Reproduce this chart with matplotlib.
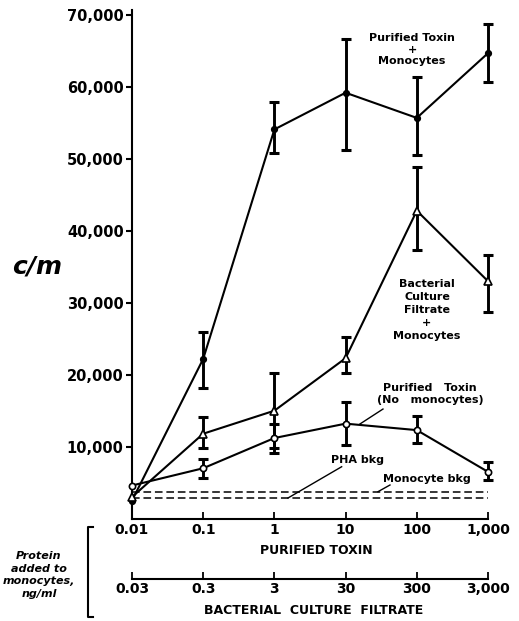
import matplotlib
matplotlib.use('Agg')
import matplotlib.pyplot as plt
from matplotlib.lines import Line2D
import numpy as np

# --- data ---
dose = [0.01, 0.1, 1, 10, 100, 1000]
dose_labels = ['0.01', '0.1', '1', '10', '100', '1,000']
filtrate_labels = ['0.03', '0.3', '3', '30', '300', '3,000']

toxin_mono = [2500, 22200, 54100, 59200, 55700, 64700]
toxin_mono_hi = [2500, 25900, 57900, 66600, 61400, 68700]
toxin_mono_lo = [2500, 18200, 50800, 51200, 50500, 60700]

filtrate_mono = [3000, 11800, 15000, 22300, 42800, 33000]
filtrate_mono_hi = [3000, 14100, 20200, 25200, 48900, 36700]
filtrate_mono_lo = [3000, 9800, 9800, 20200, 37300, 28700]

toxin_only = [4600, 7000, 11200, 13200, 12300, 6500]
toxin_only_hi = [4600, 8300, 13200, 16200, 14250, 7900]
toxin_only_lo = [4600, 5650, 9100, 10200, 10500, 5400]

pha_bkg = 2820
monocyte_bkg = 3650

W, H = 519, 621
fig = plt.figure(figsize=(W / 100, H / 100), dpi=100)


def fpos(x, y):
    # pixel position (from top-left) -> figure fraction
    return x / W, 1 - y / H


x_left, x_right = 132, 498
y_bot, y_top = 518.6, 10
ax = fig.add_axes([x_left / W, 1 - y_bot / H, (x_right - x_left) / W, (y_bot - y_top) / H])
ax.set_xscale('log')
ax.set_xlim(0.01, 10 ** (3 + 10 / 71.2))
ax.set_ylim(0, 70700)

series = [
    (toxin_mono, toxin_mono_lo, toxin_mono_hi, dict(marker='o', ms=4, mfc='black')),
    (filtrate_mono, filtrate_mono_lo, filtrate_mono_hi, dict(marker='^', ms=6, mfc='white')),
    (toxin_only, toxin_only_lo, toxin_only_hi, dict(marker='o', ms=4.5, mfc='white')),
]
for vals, lo, hi, style in series:
    ax.plot(dose, vals, color='black', lw=1.5, mec='black', mew=1.2, zorder=3,
            clip_on=False, **style)
    v = np.array(vals[1:])
    err = [v - np.array(lo[1:]), np.array(hi[1:]) - v]
    ax.errorbar(dose[1:], v, yerr=err, fmt='none', ecolor='black', elinewidth=2.1,
                capsize=3.4, capthick=2.2, zorder=2, clip_on=False)

for level in (pha_bkg, monocyte_bkg):
    ax.plot([0.01, 1000], [level, level], color='black', lw=1.1, dashes=(5, 2.5))

for s in ('top', 'right'):
    ax.spines[s].set_visible(False)
ax.spines['left'].set_linewidth(1.5)
ax.spines['bottom'].set_linewidth(1.5)
ax.spines['bottom'].set_bounds(0.01, 1000)

ax.set_xticks(dose)
ax.set_xticklabels(dose_labels)
ax.xaxis.set_minor_locator(matplotlib.ticker.NullLocator())
ax.tick_params(axis='x', direction='in', length=5, width=1.3, pad=3,
               labelsize=10)
ax.set_yticks(range(10000, 70001, 10000))
ax.set_yticklabels([f'{v:,}' for v in range(10000, 70001, 10000)])
ax.tick_params(axis='y', direction='out', length=4, width=1.5, pad=2,
               labelsize=10.5)
for lab in ax.get_xticklabels() + ax.get_yticklabels():
    lab.set_fontweight('bold')

# series labels
txt = dict(ha='center', va='center', fontsize=8, fontweight='bold')
ax.text(85.7, 65200, 'Purified Toxin\n+\nMonocytes', linespacing=1.15, **txt)
ax.text(139, 29000, 'Bacterial\nCulture\nFiltrate\n+\nMonocytes', linespacing=1.35, **txt)
ax.text(153, 17300, 'Purified   Toxin\n(No   monocytes)', linespacing=1.3, **txt)
ax.text(14.5, 8200, 'PHA bkg', **txt)
ax.text(139, 5500, 'Monocyte bkg', **txt)
ax.plot([33.5, 15.9], [15230, 13150], color='black', lw=1)
ax.plot([8.8, 1.55], [7210, 2860], color='black', lw=1)
ax.plot([42, 28.5], [4670, 3740], color='black', lw=1)

fig.text(*fpos(37, 267), 'c/m', ha='center', va='center', fontsize=18,
         fontweight='bold', style='italic')

fig.text(*fpos(316, 551), 'PURIFIED TOXIN', ha='center', va='center',
         fontsize=9, fontweight='bold')

# second scale for bacterial culture filtrate
ax2 = fig.add_axes([x_left / W, 1 - 579 / H, (x_right - x_left) / W, 0.001])
ax2.set_xscale('log')
ax2.set_xlim(ax.get_xlim())
ax2.patch.set_visible(False)
for s in ('top', 'right', 'left'):
    ax2.spines[s].set_visible(False)
ax2.spines['bottom'].set_bounds(0.01, 1000)
ax2.spines['bottom'].set_linewidth(1.5)
ax2.set_yticks([])
ax2.set_xticks(dose)
ax2.set_xticklabels(filtrate_labels)
ax2.xaxis.set_minor_locator(matplotlib.ticker.NullLocator())
ax2.tick_params(axis='x', direction='in', length=5, width=1.3, pad=2,
                labelsize=10)
for lab in ax2.get_xticklabels():
    lab.set_fontweight('bold')

fig.text(*fpos(314, 610), 'BACTERIAL  CULTURE  FILTRATE', ha='center', va='center',
         fontsize=9, fontweight='bold')

fig.text(*fpos(39, 575), 'Protein\nadded to\nmonocytes,\nng/ml', ha='center',
         va='center', fontsize=8, fontweight='bold', style='italic', linespacing=1.3)

# bracket
bx = [93, 88, 88, 93]
by = [527, 527, 617, 617]
fig.add_artist(Line2D([x / W for x in bx], [1 - y / H for y in by], color='black', lw=1.5))

fig.savefig('out.png', dpi=100)
